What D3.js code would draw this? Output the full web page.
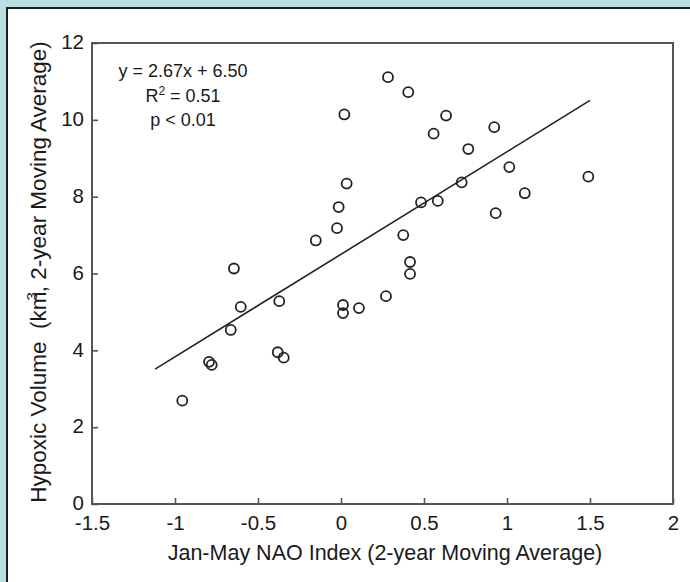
<!DOCTYPE html>
<html>
<head>
<meta charset="utf-8">
<script src="https://cdn.jsdelivr.net/npm/d3@7"></script>
<style>
  html, body { margin: 0; padding: 0; background: #b9dfe2; }
  svg { display: block; font-family: "Liberation Sans", Arial, sans-serif; }
</style>
</head>
<body>
<svg id="chart" width="690" height="582"></svg>
<script>
// ---- data ----
const naoIndex = [-0.956, -0.795, -0.779, -0.664, -0.645, -0.604, -0.372, -0.381, -0.345, -0.152,
                  -0.024, -0.014, 0.020, 0.034, 0.012, 0.012, 0.108, 0.271, 0.283, 0.375,
                  0.405, 0.416, 0.416, 0.482, 0.583, 0.558, 0.633, 0.727, 0.767, 0.923,
                  0.932, 1.014, 1.107, 1.490];
const hypoxicVolume = [2.69, 3.70, 3.62, 4.53, 6.13, 5.13, 5.28, 3.95, 3.81, 6.86,
                       7.18, 7.73, 10.14, 8.34, 5.18, 4.97, 5.10, 5.41, 11.11, 7.00,
                       10.72, 6.30, 5.99, 7.85, 7.89, 9.64, 10.11, 8.37, 9.24, 9.81,
                       7.57, 8.77, 8.09, 8.52];
const fitSlope = 2.67;
const fitIntercept = 6.50;
const fitRange = [-1.12, 1.50];
const xTickValues = [-1.5, -1, -0.5, 0, 0.5, 1, 1.5, 2];
const xTickLabels = ["-1.5", "-1", "-0.5", "0", "0.5", "1", "1.5", "2"];
const yTickValues = [0, 2, 4, 6, 8, 10, 12];
const yTickLabels = ["0", "2", "4", "6", "8", "10", "12"];
const annotationLines = ["y = 2.67x + 6.50", "R2 = 0.51", "p < 0.01"];

const svg = d3.select("#chart");

// outer white panel
svg.append("rect")
  .attr("x", 7).attr("y", 8).attr("width", 720).attr("height", 620)
  .attr("fill", "#ffffff").attr("stroke", "#1c1c1c").attr("stroke-width", 2);

const x = d3.scaleLinear().domain([-1.5, 2]).range([92, 673]);
const y = d3.scaleLinear().domain([0, 12]).range([504, 43]);

const axisColor = "#555";

// axes
const xAxis = d3.axisBottom(x).tickValues(xTickValues)
  .tickFormat((d, i) => xTickLabels[i]).tickSizeInner(-6).tickSizeOuter(0).tickPadding(11);
const yAxis = d3.axisLeft(y).tickValues(yTickValues)
  .tickFormat((d, i) => yTickLabels[i]).tickSizeInner(-6).tickSizeOuter(0).tickPadding(8);

const gx = svg.append("g").attr("transform", `translate(0,${y(0)})`).call(xAxis);
const gy = svg.append("g").attr("transform", `translate(${x(-1.5)},0)`).call(yAxis);
[gx, gy].forEach(g => {
  g.select(".domain").remove();
  g.selectAll(".tick line").attr("stroke", axisColor).attr("stroke-width", 1.6);
  g.selectAll(".tick text").attr("fill", "#1a1a1a").style("font-size", "20.5px")
    .style("font-family", "'Liberation Sans', Arial, sans-serif");
});
gy.selectAll(".tick text").attr("dy", "0.28em");

// plot frame
svg.append("rect")
  .attr("x", x(-1.5)).attr("y", y(12))
  .attr("width", x(2) - x(-1.5)).attr("height", y(0) - y(12))
  .attr("fill", "none").attr("stroke", axisColor).attr("stroke-width", 2);

// regression line
svg.append("line")
  .attr("x1", x(fitRange[0])).attr("y1", y(fitSlope * fitRange[0] + fitIntercept))
  .attr("x2", x(fitRange[1])).attr("y2", y(fitSlope * fitRange[1] + fitIntercept))
  .attr("stroke", "#222").attr("stroke-width", 1.6);

// points
const pts = naoIndex.map((v, i) => ({x: v, y: hypoxicVolume[i]}));
svg.append("g").selectAll("circle").data(pts).join("circle")
  .attr("cx", d => x(d.x)).attr("cy", d => y(d.y)).attr("r", 5)
  .attr("fill", "none").attr("stroke", "#222").attr("stroke-width", 1.8);

// annotation
const ann = svg.append("g").attr("fill", "#1a1a1a").style("font-size", "18px").attr("text-anchor", "middle");
ann.append("text").attr("x", 183).attr("y", 77).text(annotationLines[0]);
const r2 = ann.append("text").attr("x", 183).attr("y", 102);
r2.append("tspan").text("R");
r2.append("tspan").attr("dy", -7).style("font-size", "12px").text("2");
r2.append("tspan").attr("dy", 7).text(" = 0.51");
ann.append("text").attr("x", 183).attr("y", 126).text(annotationLines[2]);

// axis titles
svg.append("text").attr("x", 385).attr("y", 560).attr("text-anchor", "middle")
  .attr("fill", "#1a1a1a").style("font-size", "21.5px")
  .text("Jan-May NAO Index (2-year Moving Average)");

const yt = svg.append("text")
  .attr("transform", "translate(46,272) rotate(-90)")
  .attr("text-anchor", "middle").attr("fill", "#1a1a1a").style("font-size", "22.5px")
  .style("white-space", "pre");
yt.append("tspan").text("Hypoxic Volume  (km");
yt.append("tspan").attr("dy", -9).attr("dx", -9).style("font-size", "15px").text("3");
yt.append("tspan").attr("dy", 9).text(", 2-year Moving Average)");
</script>
</body>
</html>
